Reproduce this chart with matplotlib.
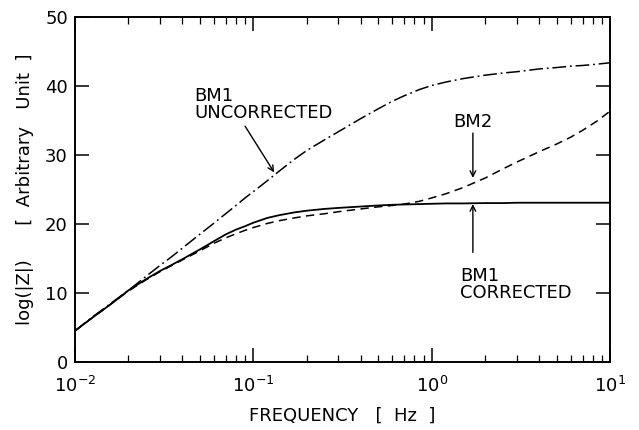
import matplotlib.pyplot as plt

plt.rcParams['font.family'] = ['DejaVu Sans']

# значения
freq = [0.01, 0.0125, 0.015, 0.0175, 0.02, 0.025, 0.03, 0.035, 0.04, 0.05,
        0.06, 0.07, 0.08, 0.09, 0.1, 0.12, 0.14, 0.17, 0.2, 0.25,
        0.3, 0.4, 0.5, 0.6, 0.7, 0.85, 1.0, 1.2, 1.5, 2.0,
        2.5, 3.0, 4.0, 5.0, 6.0, 7.0, 8.5, 10.0]
bm1_uncorrected = [4.5, 6.5, 8.0, 9.3, 10.4, 12.4, 14.0, 15.3, 16.5, 18.5,
                   20.1, 21.5, 22.7, 23.8, 24.7, 26.3, 27.7, 29.4, 30.7, 32.2,
                   33.4, 35.3, 36.7, 37.8, 38.6, 39.5, 40.1, 40.6, 41.1, 41.6,
                   41.9, 42.1, 42.5, 42.7, 42.9, 43.0, 43.2, 43.4]
bm1_corrected = [4.5, 6.4, 7.9, 9.2, 10.4, 12.0, 13.2, 14.1, 14.9, 16.3,
                 17.5, 18.5, 19.2, 19.7, 20.2, 20.9, 21.3, 21.7, 21.95, 22.2,
                 22.35, 22.55, 22.7, 22.8, 22.85, 22.9, 22.95, 23.0, 23.0, 23.05,
                 23.05, 23.1, 23.1, 23.1, 23.1, 23.1, 23.1, 23.1]
bm2 = [4.5, 6.4, 7.9, 9.2, 10.3, 11.9, 13.1, 14.0, 14.8, 16.1,
       17.2, 18.0, 18.6, 19.1, 19.5, 20.1, 20.5, 20.9, 21.2, 21.5,
       21.8, 22.2, 22.5, 22.7, 22.9, 23.3, 23.8, 24.4, 25.3, 26.7,
       28.0, 29.0, 30.5, 31.6, 32.6, 33.6, 35.0, 36.4]

fig = plt.figure(figsize=(6.39, 4.30), dpi=100)
ax = fig.add_axes([0.117, 0.158, 0.838, 0.802])

ax.plot(freq, bm1_uncorrected, color='black', lw=1.1, dashes=(9, 2.5, 1.2, 2.5))
ax.plot(freq, bm2, color='black', lw=1.1, dashes=(5.5, 3.5))
ax.plot(freq, bm1_corrected, color='black', lw=1.3)

ax.set_xscale('log')
ax.set_xlim(0.01, 10)
ax.set_ylim(0, 50)
ax.set_yticks([0, 10, 20, 30, 40, 50])
ax.minorticks_on()
ax.yaxis.set_minor_locator(plt.NullLocator())
ax.tick_params(which='major', direction='in', length=10, width=1.1, top=True, right=True,
               labelsize=13)
ax.tick_params(axis='y', which='major', pad=5)
ax.tick_params(axis='x', which='major', pad=10)
ax.tick_params(which='minor', direction='in', length=5, width=0.9, top=True)
for s in ax.spines.values():
    s.set_linewidth(1.4)

ax.set_xlabel('FREQUENCY   [  Hz  ]', fontsize=13, labelpad=8)
ax.set_ylabel('log(|Z|)      [  Arbitrary   Unit  ]', fontsize=13, labelpad=8)

arrow = dict(arrowstyle='->', color='black', lw=1, shrinkA=0, shrinkB=0)

ax.text(0.0467, 35.4, 'BM1\nUNCORRECTED', fontsize=13, linespacing=0.95,
        ha='left', va='baseline')
ax.annotate('', xy=(0.131, 27.5), xytext=(0.09, 34.2), arrowprops=arrow)

ax.text(1.70, 34.1, 'BM2', fontsize=13, ha='center', va='baseline')
ax.annotate('', xy=(1.70, 26.7), xytext=(1.70, 33.2), arrowprops=arrow)

ax.text(1.44, 9.3, 'BM1\nCORRECTED', fontsize=13, linespacing=0.95,
        ha='left', va='baseline')
ax.annotate('', xy=(1.70, 22.9), xytext=(1.70, 15.9), arrowprops=arrow)

plt.savefig('out.png', dpi=100)
